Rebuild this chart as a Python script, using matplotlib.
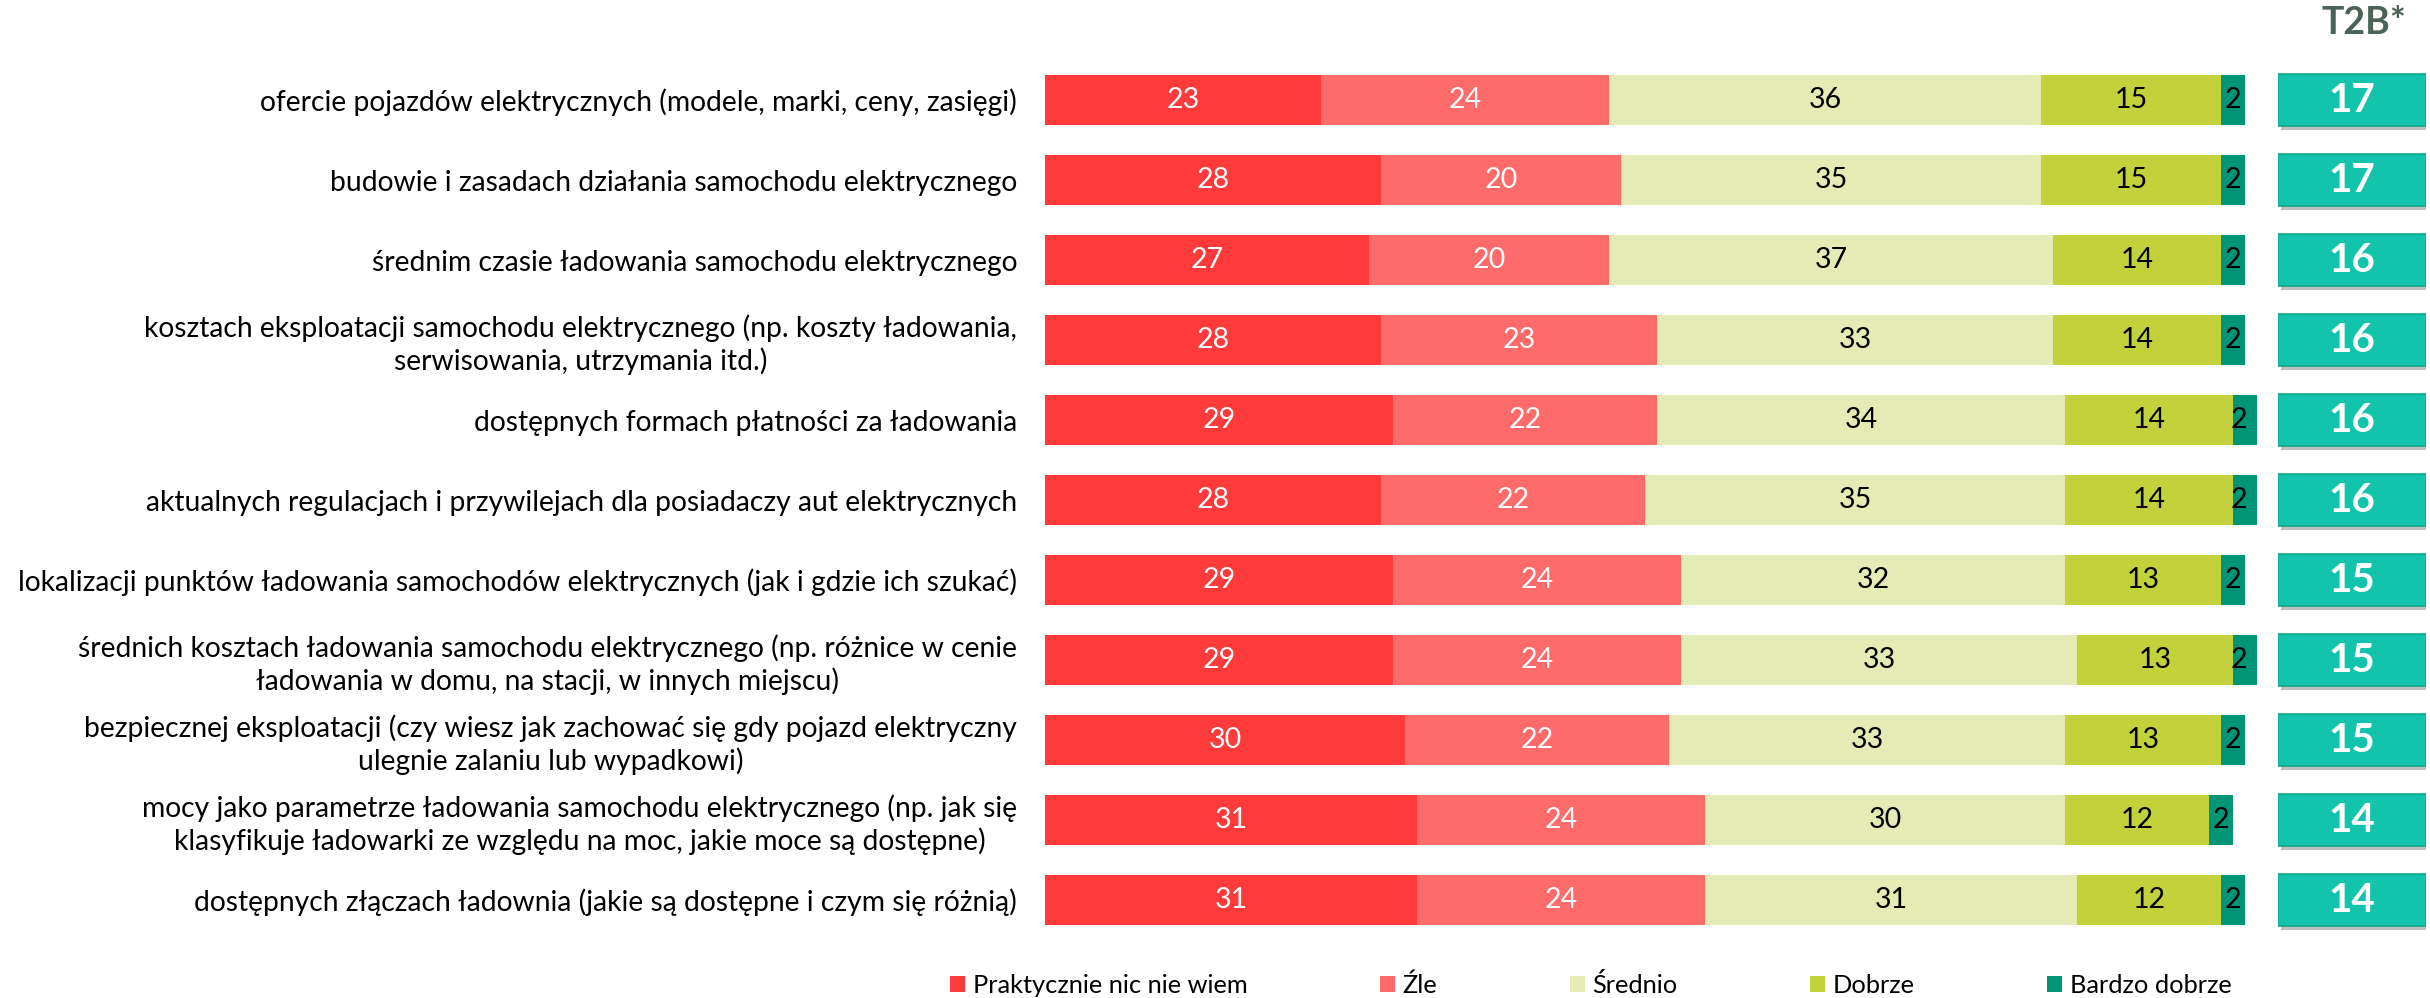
import matplotlib
matplotlib.use("Agg")
import matplotlib.pyplot as plt
import matplotlib.patheffects as pe
import numpy as np

categories = [
    "ofercie pojazdów elektrycznych (modele, marki, ceny, zasięgi)",
    "budowie i zasadach działania samochodu elektrycznego",
    "średnim czasie ładowania samochodu elektrycznego",
    "kosztach eksploatacji samochodu elektrycznego (np. koszty ładowania,\nserwisowania, utrzymania itd.)",
    "dostępnych formach płatności za ładowania",
    "aktualnych regulacjach i przywilejach dla posiadaczy aut elektrycznych",
    "lokalizacji punktów ładowania samochodów elektrycznych (jak i gdzie ich szukać)",
    "średnich kosztach ładowania samochodu elektrycznego (np. różnice w cenie\nładowania w domu, na stacji, w innych miejscu)",
    "bezpiecznej eksploatacji (czy wiesz jak zachować się gdy pojazd elektryczny\nulegnie zalaniu lub wypadkowi)",
    "mocy jako parametrze ładowania samochodu elektrycznego (np. jak się\nklasyfikuje ładowarki ze względu na moc, jakie moce są dostępne)",
    "dostępnych złączach ładownia (jakie są dostępne i czym się różnią)",
]

praktycznie_nic = [23, 28, 27, 28, 29, 28, 29, 29, 30, 31, 31]
zle = [24, 20, 20, 23, 22, 22, 24, 24, 22, 24, 24]
srednio = [36, 35, 37, 33, 34, 35, 32, 33, 33, 30, 31]
dobrze = [15, 15, 14, 14, 14, 14, 13, 13, 13, 12, 12]
bardzo_dobrze = [2, 2, 2, 2, 2, 2, 2, 2, 2, 2, 2]
t2b = [17, 17, 16, 16, 16, 16, 15, 15, 15, 14, 14]

series_names = ["Praktycznie nic nie wiem", "Źle", "Średnio", "Dobrze", "Bardzo dobrze"]
series = [praktycznie_nic, zle, srednio, dobrze, bardzo_dobrze]
colors = ["#FF3A3A", "#FF6B6B", "#E5EBB5", "#C3D13B", "#009577"]
value_colors = ["white", "white", "black", "black", "black"]

plt.rcParams["font.family"] = ["Lato", "DejaVu Sans"]

W, H = 2430, 998
fig = plt.figure(figsize=(W / 100, H / 100), dpi=100)

ax_bottom = 1 - 940 / H
ax_height = 880 / H
ax = fig.add_axes([1045 / W, ax_bottom, 1200 / W, ax_height])

n = len(categories)
y = np.arange(n)
left = np.zeros(n)
handles = []
for vals, col, tcol, name in zip(series, colors, value_colors, series_names):
    vals = np.array(vals, dtype=float)
    bars = ax.barh(y, vals, left=left, height=0.625, color=col,
                   edgecolor="none", label=name, clip_on=False)
    ax.bar_label(bars, labels=[f"{int(v)}" for v in vals], label_type="center",
                 color=tcol, fontsize=20.5)
    handles.append(bars)
    left += vals

ax.set_xlim(0, 100)
ax.set_ylim(n - 0.5, -0.5)
ax.set_xticks([])
ax.set_yticks(y, categories, fontsize=20.3)
ax.tick_params(axis="y", length=0, pad=20)
for lbl in ax.get_yticklabels():
    lbl.set_multialignment("center")
for s in ax.spines.values():
    s.set_visible(False)

# T2B summary column
ax2 = fig.add_axes([2278 / W, ax_bottom, 148 / W, ax_height])
ax2.set_xlim(0, 1)
ax2.set_ylim(n - 0.5, -0.5)
ax2.axis("off")
boxes = ax2.barh(y, np.ones(n), height=0.65, color="#13C4AC",
                 edgecolor="#0FA890", linewidth=1.2)
for b in boxes:
    b.set_path_effects([pe.SimplePatchShadow(offset=(2, -3), shadow_rgbFace="#000000", alpha=0.25),
                        pe.Normal()])
for yi, v in zip(y, t2b):
    ax2.text(0.5, yi, f"{v}", ha="center", va="center", color="white",
             fontsize=29, fontweight="bold")

fig.text(2364 / W, 1 - 23 / H, "T2B*", ha="center", va="center",
         fontsize=27, fontweight="bold", color="#4A6356")

fig.legend(handles=handles, labels=series_names, loc="center left",
           bbox_to_anchor=(950 / W, 1 - 985 / H), ncol=5, frameon=False,
           fontsize=18.3, handlelength=0.6, handleheight=0.6, handletextpad=0.3,
           columnspacing=5.2, borderpad=0, borderaxespad=0)

fig.savefig("out.png", dpi=100, facecolor="white")
